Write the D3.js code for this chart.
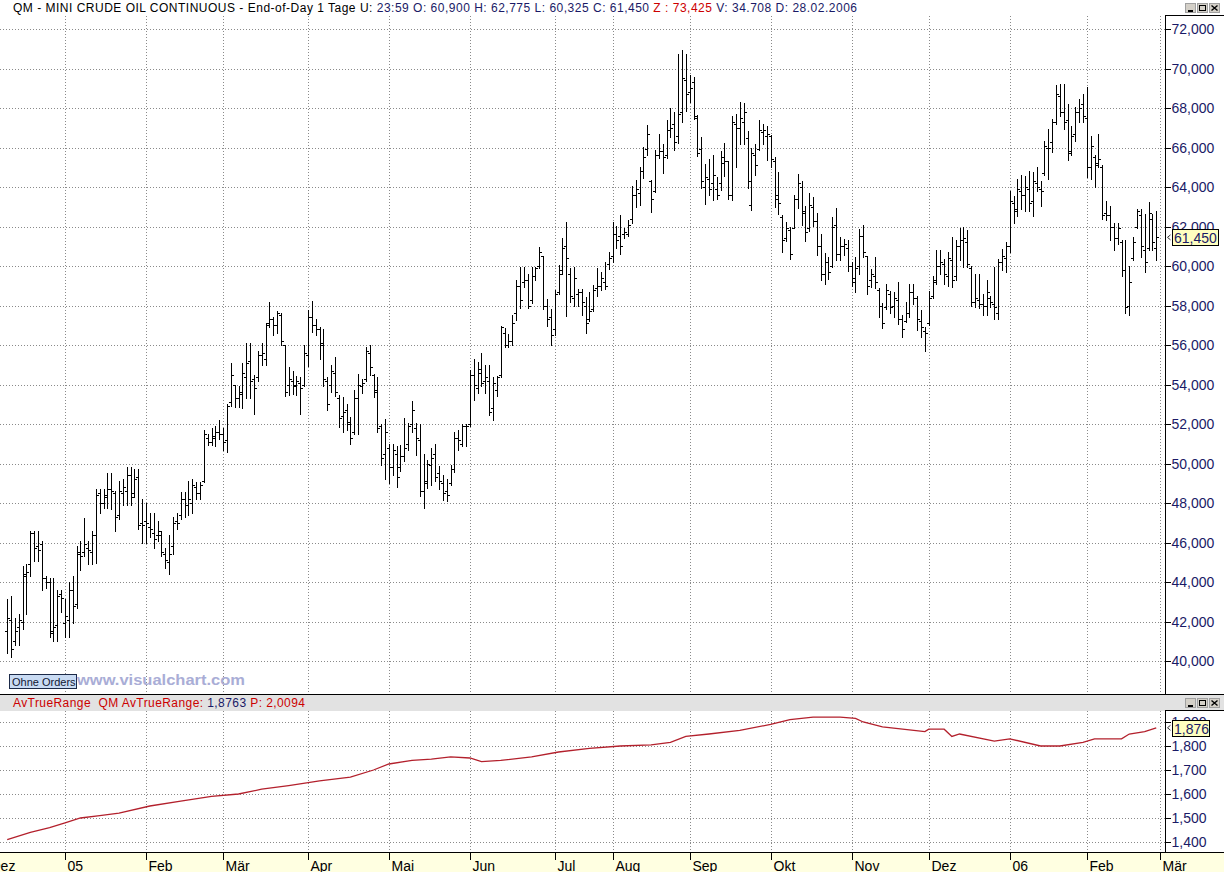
<!DOCTYPE html>
<meta charset="utf-8">
<style>
body { margin: 0; background: #fff; }
svg { display: block; font-family: "Liberation Sans", Arial, sans-serif; }
</style>
<svg width="1224" height="872"></svg>
<script src="https://cdn.jsdelivr.net/npm/d3@7"></script>
<script>

// daily bars, 13.12.2004 - 28.02.2006 (prices in $, shown as 61,450 etc.)
var highs = [
  43.15,43.3,42.2,42.4,44.8,44.9,46.6,46.6,46.6,46.1,
  44.3,44.2,44.2,43.6,43.6,43.15,44.0,44.3,45.8,46.1,
  47.25,46.1,46.6,48.7,48.7,48.7,49.5,49.5,48.6,49.1,
  49.2,49.8,49.8,49.7,49.7,48.2,48.0,47.5,47.5,47.1,
  46.6,45.7,46.4,47.3,47.5,48.55,48.55,49.1,49.2,49.05,
  49.05,51.7,51.5,51.8,51.9,52.2,51.8,53.0,55.1,53.95,
  53.9,55.1,56.1,56.1,54.5,55.7,56.1,57.1,58.2,57.4,
  57.7,57.6,56.0,54.9,54.7,54.45,54.4,56.0,57.75,58.25,
  57.3,56.9,56.8,54.4,55.0,55.4,53.45,53.35,53.0,52.35,
  53.7,54.55,54.3,55.9,56.0,54.55,54.4,52.0,52.25,51.0,
  51.0,50.9,50.95,52.3,52.05,53.15,52.05,52.0,50.5,50.2,
  50.8,51.0,49.85,49.4,49.2,49.9,51.6,51.7,52.0,52.0,
  54.75,55.3,55.15,55.6,55.0,55.0,54.4,54.45,56.95,56.85,
  56.55,57.5,59.3,59.95,59.95,59.6,59.95,59.95,60.95,60.5,
  58.35,57.8,58.8,60.05,61.4,62.25,59.9,59.95,58.85,58.85,
  58.45,58.7,59.05,59.9,59.7,60.2,60.7,62.25,62.05,62.6,
  61.9,62.35,64.05,64.35,65.0,66.05,67.15,64.35,65.85,66.7,
  66.2,67.4,68.0,67.8,70.75,70.95,70.75,69.65,69.55,67.65,
  66.55,65.15,65.4,65.6,64.5,65.8,66.25,65.3,67.6,67.7,
  68.3,68.25,66.85,65.95,66.2,67.4,67.2,67.1,66.65,65.5,
  64.75,62.6,62.25,62.0,63.6,64.65,64.3,63.05,63.7,63.5,
  62.7,61.6,60.65,60.45,62.5,62.95,61.45,61.35,61.3,60.2,
  60.45,61.85,62.1,60.5,59.85,60.45,58.9,58.15,59.1,58.75,
  58.7,59.2,57.5,58.2,59.1,59.1,58.5,57.75,56.9,58.75,
  59.5,60.8,60.8,60.35,60.7,61.45,61.3,61.9,61.95,61.8,
  60.0,59.6,59.6,58.6,59.3,58.5,59.95,60.35,60.85,61.2,
  63.8,63.55,64.4,64.6,64.55,64.8,64.75,65.0,64.3,66.35,
  66.95,67.45,69.15,69.2,69.2,68.2,67.1,68.05,68.45,68.7,
  69.05,66.6,65.6,66.7,65.1,63.3,63.05,62.2,62.2,61.3,
  61.3,60.0,61.45,62.9,62.9,62.65,63.25,62.65,62.775
];
var lows = [
  40.4,40.2,40.8,40.8,41.6,42.4,44.3,45.05,45.05,43.6,
  43.7,41.2,41.0,41.0,42.5,41.2,41.2,41.9,42.7,44.6,
  45.3,44.9,44.9,44.95,47.5,47.75,47.75,47.7,46.6,47.2,
  47.9,47.9,47.9,48.3,46.7,46.0,46.0,46.3,45.7,46.1,
  45.3,44.7,44.4,45.4,46.7,47.2,47.3,47.4,47.5,48.2,
  48.2,49.05,50.95,50.95,50.9,51.25,50.7,50.6,52.9,52.85,
  52.85,52.8,53.3,53.3,52.5,54.2,55.0,55.0,56.9,56.5,
  56.6,56.0,53.4,53.45,53.5,53.45,52.5,53.9,54.95,56.65,
  56.5,55.3,53.9,52.7,53.6,53.4,51.85,51.6,51.7,51.0,
  51.5,51.5,53.55,54.2,54.5,53.35,51.6,49.9,49.2,49.0,
  49.4,48.8,49.6,50.15,50.7,51.6,50.45,48.35,47.75,48.75,
  48.9,49.1,48.7,48.15,48.1,48.9,49.55,50.7,50.9,50.9,
  51.9,53.2,53.55,53.9,53.55,52.45,52.2,53.4,54.4,55.9,
  55.9,56.0,57.25,57.85,58.95,57.85,58.15,59.3,59.9,57.8,
  56.95,56.0,56.5,58.6,59.6,57.45,58.2,57.95,57.95,57.5,
  56.6,57.2,57.7,58.5,58.8,58.85,59.85,60.2,60.9,60.6,
  61.4,61.5,62.2,63.0,63.1,64.45,65.6,62.75,63.75,65.45,
  64.7,65.45,66.55,65.85,66.25,67.3,67.85,68.3,67.45,65.55,
  63.95,63.15,63.6,63.35,63.4,63.85,64.55,63.4,63.35,65.0,
  66.2,66.2,63.95,62.85,64.6,65.85,66.2,65.35,65.0,63.0,
  62.65,60.7,61.25,60.35,61.9,62.95,62.1,61.25,61.75,62.05,
  60.55,59.3,59.1,59.35,59.95,60.3,60.3,60.55,59.75,59.0,
  58.7,59.6,60.45,58.6,58.95,58.9,57.4,56.85,57.8,57.6,
  57.4,57.05,56.4,57.15,57.4,58.1,56.75,56.4,55.7,57.0,
  58.4,59.1,59.6,59.1,59.0,58.95,59.3,60.3,59.95,59.95,
  58.0,57.9,57.85,57.5,57.5,57.9,57.3,57.3,59.8,59.7,
  60.7,62.2,62.55,62.9,62.8,62.8,62.55,63.8,63.05,64.6,
  64.4,65.75,67.2,67.6,66.95,65.35,65.6,66.35,67.3,67.3,
  64.5,64.4,64.0,65.0,62.4,62.35,61.3,60.8,61.1,59.5,
  57.6,57.5,60.3,61.9,60.45,59.7,60.8,60.8,60.325
];
var opens = [
  41.5,42.1,41.0,41.7,42.0,44.3,44.9,46.5,45.8,45.9,
  44.2,44.0,41.5,41.8,43.4,41.9,42.1,43.6,42.9,45.4,
  45.5,45.7,45.5,46.4,48.5,48.0,48.3,48.7,48.5,47.4,
  48.5,48.6,49.4,48.5,49.3,47.0,47.1,46.8,46.5,46.4,
  46.4,45.4,45.0,45.8,47.1,47.4,48.2,47.9,48.0,48.8,
  48.5,49.1,51.3,51.1,51.3,51.6,51.5,51.2,53.1,54.0,
  53.3,53.5,54.4,55.2,54.3,54.4,55.5,55.3,57.1,57.3,
  57.0,57.5,56.0,54.0,54.2,54.0,54.1,54.0,55.5,57.4,
  57.0,56.8,56.0,54.2,54.0,54.6,53.3,52.4,52.7,52.0,
  51.6,53.3,53.9,54.3,55.6,54.5,53.7,51.9,50.5,50.8,
  49.8,50.5,49.8,50.4,51.0,52.0,51.8,51.2,48.6,49.1,
  49.9,50.5,49.5,49.0,48.6,49.0,49.7,51.3,51.0,51.9,
  52.0,54.5,53.8,54.6,54.2,54.2,52.8,53.7,54.5,56.6,
  56.0,56.2,57.6,59.0,59.2,59.3,58.3,59.5,60.0,60.5,
  58.0,57.4,56.8,58.7,59.8,61.0,59.6,58.4,58.6,58.7,
  58.0,57.3,57.8,58.9,59.0,59.2,60.1,60.5,61.6,61.5,
  61.6,61.6,62.4,63.6,63.7,64.8,65.9,64.3,63.8,65.6,
  65.8,65.6,66.9,67.2,66.6,67.8,69.4,68.8,69.3,67.5,
  65.9,64.0,64.4,64.2,63.9,64.2,65.2,65.3,63.6,67.2,
  67.0,67.3,66.5,63.1,65.6,65.9,66.8,66.6,66.6,65.3,
  63.6,62.5,61.4,61.8,61.9,63.4,64.0,62.7,61.9,63.0,
  62.3,61.0,59.6,60.2,60.0,62.1,60.6,61.0,60.9,60.0,
  59.2,60.0,61.5,60.5,59.3,59.5,58.8,58.0,57.9,58.6,
  58.0,58.3,57.3,57.2,57.6,58.7,58.4,57.2,56.7,57.1,
  58.5,59.3,60.0,60.1,59.5,60.3,59.5,61.0,61.3,61.2,
  59.9,58.2,58.3,58.1,58.0,58.4,58.1,57.6,60.2,60.4,
  61.0,63.2,62.9,63.8,63.6,63.9,63.3,64.2,63.9,64.7,
  66.0,66.3,67.3,68.6,67.8,67.4,65.8,66.7,67.8,68.2,
  67.5,65.0,65.5,65.2,65.0,62.7,62.6,62.0,61.4,61.2,
  59.8,58.0,60.4,62.0,62.6,60.8,60.9,62.4,60.9
];
var closes = [
  42.2,40.6,41.5,42.1,44.4,44.5,46.5,45.7,45.6,44.2,
  44.0,41.4,41.7,43.3,43.2,42.3,43.6,42.8,45.5,45.3,
  45.9,45.6,46.4,48.4,48.0,48.4,48.7,48.6,47.3,48.6,
  48.8,49.4,48.3,49.2,46.9,46.9,47.0,46.7,46.2,46.6,
  45.5,45.1,45.4,47.0,47.0,48.2,47.9,48.2,48.9,48.5,
  48.9,51.5,51.1,51.4,51.6,51.5,51.1,52.9,54.5,53.3,
  53.6,54.6,55.1,54.2,53.8,55.5,55.6,57.0,57.3,57.0,
  57.6,56.2,53.6,54.3,53.9,54.2,53.8,55.6,57.4,57.0,
  56.8,56.1,54.3,53.0,54.7,53.6,52.3,52.6,52.1,51.3,
  53.3,54.0,54.1,55.7,54.9,53.6,51.8,50.3,51.6,49.8,
  50.7,49.3,50.4,50.8,51.9,52.7,51.3,48.6,49.0,50.0,
  50.3,49.3,49.1,48.5,48.4,49.7,51.3,51.2,51.9,51.9,
  54.5,54.0,54.8,54.1,54.4,52.6,54.1,54.4,56.9,56.0,
  56.2,57.1,59.0,58.3,59.3,58.0,59.5,59.9,60.7,58.0,
  57.3,56.5,58.6,59.6,60.9,60.4,58.5,59.4,58.7,58.2,
  57.1,57.7,58.8,59.0,59.4,59.0,60.4,61.6,61.3,61.0,
  61.7,62.1,63.6,63.9,64.8,65.5,66.7,63.4,65.6,65.8,
  65.5,66.9,67.0,66.3,67.7,69.5,68.7,69.0,67.6,65.7,
  64.3,64.5,63.9,64.6,63.6,65.5,65.3,63.6,67.3,67.0,
  67.5,67.8,64.3,65.7,65.1,66.9,66.9,66.7,65.4,63.4,
  63.2,61.3,61.9,60.6,63.4,64.2,62.8,61.7,63.1,62.3,
  61.0,59.6,60.2,59.7,62.0,60.6,61.0,61.1,60.0,59.4,
  59.9,61.5,60.7,59.0,59.6,59.2,58.0,57.1,58.8,57.9,
  58.4,57.3,56.8,57.6,58.7,58.4,57.3,56.9,56.6,58.4,
  59.2,60.0,60.2,59.6,60.4,59.3,61.0,61.3,61.4,60.1,
  58.2,58.4,58.1,58.0,58.7,58.2,57.9,60.2,60.5,61.0,
  63.3,62.8,63.9,63.6,64.0,63.2,64.3,64.0,63.8,66.1,
  66.0,67.3,68.7,67.8,67.3,65.7,66.6,67.8,68.0,67.6,
  65.0,66.1,65.1,65.4,62.6,62.6,62.0,61.4,61.9,59.8,
  57.9,59.2,61.2,62.8,61.0,60.2,62.7,61.2,61.45
];

var atrIdx = [0,6,11,15,19,24,29,37,45,53,60,66,73,81,89,95,99,105,110,115,
  120,123,128,136,143,151,159,167,172,176,182,190,198,203,209,216,220,222,227,238,
  239,243,245,247,256,260,268,273,279,282,289,291,295,298];
var atrVal = [1.41,1.44,1.46,1.48,1.50,1.51,1.52,1.55,1.57,1.59,1.60,1.62,1.635,1.655,1.67,1.70,1.725,1.74,1.745,1.755,
  1.75,1.735,1.74,1.755,1.775,1.79,1.80,1.805,1.815,1.84,1.85,1.865,1.89,1.91,1.92,1.92,1.915,1.90,1.88,1.86,
  1.87,1.87,1.84,1.85,1.82,1.83,1.80,1.80,1.815,1.83,1.83,1.85,1.86,1.876];

// first bar of each month
var monthLabels = ["Dez","05","Feb","Mär","Apr","Mai","Jun","Jul","Aug","Sep","Okt","Nov","Dez","06","Feb","Mär"];
var monthStart  = [-5,15,36,56,78,99,120,142,157,177,198,219,239,260,280,299];

var priceTicks = [40,42,44,46,48,50,52,54,56,58,60,62,64,66,68,70,72];
var atrTicks = [1.4,1.5,1.6,1.7,1.8,1.9];

var lastClose = 61.45, lastAtr = 1.876;

var svg = d3.select("svg"),
    width = 1224,
    height = 872,
    plotRight = 1165;

var font = '"Liberation Sans", Arial, sans-serif',
    navy = "#1a1a66",
    red = "#cc0000";

var x = d3.scaleLinear().domain([0, 299]).range([7.2, 1160.1]);
var y = d3.scaleLinear().domain([40, 72]).range([661, 29]);
var yAtr = d3.scaleLinear().domain([1.4, 1.9]).range([842, 722]);

var de = d3.formatLocale({decimal: ",", thousands: ".", grouping: [3], currency: ["", ""]}),
    fmt = de.format(".3f");

var bars = highs.map(function(h, i) {
  return {i: i, o: opens[i], h: h, l: lows[i], c: closes[i]};
});

svg.append("rect").attr("width", width).attr("height", height).attr("fill", "#fff");

// grid
var grid = svg.append("g")
    .attr("stroke", "#8a8a8a")
    .attr("stroke-dasharray", "1,2")
    .attr("shape-rendering", "crispEdges");

grid.selectAll(".hp").data(priceTicks).join("line")
    .attr("x1", 0).attr("x2", plotRight)
    .attr("y1", function(d) { return Math.round(y(d)) + 0.5; })
    .attr("y2", function(d) { return Math.round(y(d)) + 0.5; });

grid.selectAll(".ha").data(atrTicks).join("line")
    .attr("x1", 0).attr("x2", plotRight)
    .attr("y1", function(d) { return Math.round(yAtr(d)) + 0.5; })
    .attr("y2", function(d) { return Math.round(yAtr(d)) + 0.5; });

var vTicks = monthStart.filter(function(d) { return d >= 0; });
[[16, 694], [711, 852]].forEach(function(r) {
  grid.append("g").selectAll("line").data(vTicks).join("line")
      .attr("x1", function(d) { return Math.round(x(d)) + 0.5; })
      .attr("x2", function(d) { return Math.round(x(d)) + 0.5; })
      .attr("y1", r[0]).attr("y2", r[1]);
});

// OHLC bars
svg.append("clipPath").attr("id", "clipMain")
  .append("rect").attr("x", 0).attr("y", 16).attr("width", plotRight).attr("height", 678);

function barPath(d) {
  var cx = Math.round(x(d.i)) + 0.5,
      yh = Math.round(y(d.h)),
      yl = Math.round(y(d.l)) + 1,
      yo = Math.round(y(d.o)) + 0.5,
      yc = Math.round(y(d.c)) + 0.5;
  return "M" + cx + "," + yh + "V" + yl +
         "M" + (cx - 2.5) + "," + yo + "H" + cx +
         "M" + cx + "," + yc + "H" + (cx + 2.5);
}

svg.append("g").attr("clip-path", "url(#clipMain)")
  .selectAll("path").data(bars).join("path")
    .attr("d", barPath)
    .attr("fill", "none")
    .attr("stroke", "#000")
    .attr("stroke-width", 1)
    .attr("shape-rendering", "crispEdges");

// ATR line
svg.append("clipPath").attr("id", "clipAtr")
  .append("rect").attr("x", 0).attr("y", 711).attr("width", plotRight).attr("height", 141);

var atrLine = d3.line()
    .x(function(d, i) { return x(atrIdx[i]); })
    .y(function(d) { return yAtr(d); });

svg.append("path")
    .attr("clip-path", "url(#clipAtr)")
    .attr("d", atrLine(atrVal))
    .attr("fill", "none")
    .attr("stroke", "#b3202c")
    .attr("stroke-width", 1.3);

// "Ohne Orders" button and watermark
svg.append("rect")
    .attr("x", 9.5).attr("y", 674.5).attr("width", 67).attr("height", 14)
    .attr("fill", "#c9dbf3").attr("stroke", "#1c2a48");
svg.append("text")
    .attr("x", 12).attr("y", 685.5)
    .attr("font-size", 11).attr("fill", "#111833")
    .text("Ohne Orders");
svg.append("text")
    .attr("x", 77).attr("y", 685)
    .attr("font-size", 15).attr("font-weight", "bold")
    .attr("fill", "#a9add6")
    .attr("textLength", 168).attr("lengthAdjust", "spacingAndGlyphs")
    .text("www.visualchart.com");

// panel frames
var frame = svg.append("g").attr("stroke", "#000").attr("shape-rendering", "crispEdges");
svg.insert("rect", "g").attr("x", 0).attr("y", 695).attr("width", width).attr("height", 16).attr("fill", "#e2e2e2");
svg.append("rect").attr("x", 0).attr("y", 695).attr("width", width).attr("height", 15.5).attr("fill", "#e2e2e2");
svg.append("rect").attr("x", 0).attr("y", 853).attr("width", width).attr("height", 19).attr("fill", "#ffffe1");
frame.raise();
frame.append("line").attr("x1", 0).attr("x2", width).attr("y1", 694.5).attr("y2", 694.5);
frame.append("line").attr("x1", 0).attr("x2", width).attr("y1", 852.5).attr("y2", 852.5);
frame.append("line").attr("x1", 1165.5).attr("x2", 1165.5).attr("y1", 15).attr("y2", 694);
frame.append("line").attr("x1", 1165).attr("x2", width).attr("y1", 15.5).attr("y2", 15.5);
frame.append("line").attr("x1", 1165.5).attr("x2", 1165.5).attr("y1", 710).attr("y2", 852);
frame.append("line").attr("x1", 1165).attr("x2", width).attr("y1", 710.5).attr("y2", 710.5);

// right axes
function styleAxis(g) {
  g.attr("font-family", font).attr("font-size", 14);
  g.select(".domain").remove();
  g.selectAll(".tick line").attr("stroke", "#000").attr("shape-rendering", "crispEdges");
  g.selectAll(".tick text").attr("fill", navy);
}

svg.append("g")
    .attr("transform", "translate(1165.5,0)")
    .call(d3.axisRight(y).tickValues(priceTicks).tickFormat(fmt).tickSize(5).tickPadding(1))
    .call(styleAxis)
    .selectAll(".tick").attr("transform", function(d) { return "translate(0," + (Math.round(y(d)) + 0.5) + ")"; });

svg.append("g")
    .attr("transform", "translate(1165.5,0)")
    .call(d3.axisRight(yAtr).tickValues(atrTicks).tickFormat(fmt).tickSize(5).tickPadding(1))
    .call(styleAxis)
    .selectAll(".tick").attr("transform", function(d) { return "translate(0," + (Math.round(yAtr(d)) + 0.5) + ")"; });

// bottom axis (month starts)
var xAxis = svg.append("g")
    .attr("transform", "translate(0,852.5)")
    .call(d3.axisBottom(x).tickValues(monthStart)
      .tickFormat(function(d, i) { return monthLabels[i]; }).tickSize(7));
xAxis.attr("font-family", font).attr("font-size", 14);
xAxis.select(".domain").remove();
xAxis.selectAll(".tick").attr("transform", function(d) { return "translate(" + (Math.round(x(d)) + 0.5) + ",0)"; });
xAxis.selectAll(".tick line").attr("stroke", "#000").attr("shape-rendering", "crispEdges");
xAxis.selectAll(".tick text")
    .attr("fill", "#000").attr("text-anchor", "start")
    .attr("x", 2).attr("y", 18).attr("dy", 0);

// last value markers
function valueBox(yy, label, w) {
  var g = svg.append("g");
  g.append("path")
      .attr("d", "M1170.5," + (yy - 2.5) + "L1167.5," + yy + "L1170.5," + (yy + 2.5))
      .attr("fill", "none").attr("stroke", "#333");
  g.append("rect")
      .attr("x", 1172.5).attr("y", Math.round(yy) - 7.5).attr("width", w).attr("height", 16)
      .attr("fill", "#ffffc0").attr("stroke", "#000").attr("shape-rendering", "crispEdges");
  g.append("text")
      .attr("x", 1174).attr("y", Math.round(yy) + 5.5)
      .attr("font-size", 14).attr("fill", navy)
      .text(label);
}
valueBox(y(lastClose), fmt(lastClose), 46);
valueBox(yAtr(lastAtr), de.format(".3f")(lastAtr), 37);

// window buttons
function winButtons(x0, y0) {
  var g = svg.append("g").attr("transform", "translate(" + x0 + "," + y0 + ")")
      .attr("shape-rendering", "crispEdges");
  [0, 12, 24].forEach(function(dx) {
    g.append("rect").attr("x", dx + 0.5).attr("y", 0.5).attr("width", 10).attr("height", 9)
        .attr("fill", "#d4d0c8").attr("stroke", "#a0a0a0");
  });
  g.append("path").attr("d", "M3,7.5H8").attr("stroke", "#000").attr("stroke-width", 2);
  g.append("rect").attr("x", 14.5).attr("y", 2.5).attr("width", 6).attr("height", 5)
      .attr("fill", "none").attr("stroke", "#000");
  g.append("path").attr("d", "M15,2.5H21").attr("stroke", "#000").attr("stroke-width", 1);
  g.append("path").attr("d", "M26.5,2.5L32.5,7.5M32.5,2.5L26.5,7.5")
      .attr("stroke", "#000").attr("stroke-width", 1.4).attr("shape-rendering", "auto");
}
winButtons(1185, 3);
winButtons(1185, 698);

// header lines
var head = svg.append("text")
    .attr("x", 13).attr("y", 12)
    .attr("font-size", 12)
    .attr("textLength", 844).attr("lengthAdjust", "spacing")
    .style("white-space", "pre");
head.append("tspan").attr("fill", "#000").text("QM - MINI CRUDE OIL CONTINUOUS - End-of-Day 1 Tage U: ");
head.append("tspan").attr("fill", navy).text("23:59 O: 60,900 H: 62,775 L: 60,325 C: 61,450 ");
head.append("tspan").attr("fill", red).text("Z : 73,425 ");
head.append("tspan").attr("fill", navy).text("V: 34.708 D: 28.02.2006");

var atrHead = svg.append("text")
    .attr("x", 13).attr("y", 706.5)
    .attr("font-size", 12)
    .attr("textLength", 292).attr("lengthAdjust", "spacing")
    .style("white-space", "pre");
atrHead.append("tspan").attr("fill", red).text("AvTrueRange  QM AvTrueRange: ");
atrHead.append("tspan").attr("fill", navy).text("1,8763");
atrHead.append("tspan").attr("fill", red).text(" P: 2,0094");

</script>
